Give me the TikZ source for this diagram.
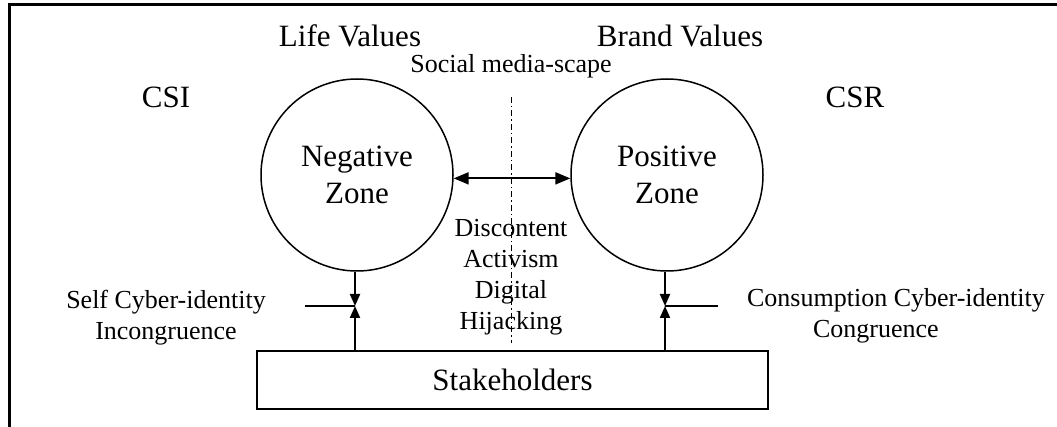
\documentclass[tikz,border=0pt]{standalone}
\usepackage{fontspec}
\setmainfont{Liberation Serif}
\usetikzlibrary{arrows.meta}

\begin{document}
\begin{tikzpicture}[x=1pt,y=-1pt,
  big/.style={font=\fontsize{31}{35}\selectfont,align=center,inner sep=0pt},
  small/.style={font=\fontsize{26}{31}\selectfont,align=center,inner sep=0pt},
  zone/.style={circle,draw,line width=1.5pt,minimum size=192pt,inner sep=0pt,
    font=\fontsize{31}{37}\selectfont,align=center},
  tip/.style={-{Triangle[length=12pt,width=10pt]},line width=2pt}]
\newcommand{\lx}{355} \newcommand{\rx}{665} \newcommand{\barY}{306}
  \useasboundingbox (0,0) rectangle (1057,427);
  \begin{scope}
    % Frame
    \draw[line width=3pt] (9,427) -- (9,5) -- (1057,5);

    % Headings
    \node[big] (life) at (350,36) {Life Values};
    \node[big] (brand) at (680,36) {Brand Values};
    \node[small] (media) at (511,66) {Social media-scape};
    \node[big] (csi) at (166,97) {CSI};
    \node[big] (csr) at (855,97) {CSR};

    % Zones
    \node[zone] (neg) at (357,175) {Negative\\Zone};
    \node[zone] (pos) at (667,175) {Positive\\Zone};
    \draw[{Triangle[length=15pt,width=12pt]}-{Triangle[length=15pt,width=12pt]},
      line width=2pt] (neg.-2.4) -- (pos.182.4);

    % Middle axis
    \coordinate (axtop) at (511,97);
    \coordinate (axbot) at (511,343);
    \draw[line width=1pt,dash pattern=on 6pt off 3pt on 1.5pt off 3pt]
      (axtop) -- (axbot);
    \node[small] (act) at (511,277)
      {Discontent\\Activism\\Digital\\Hijacking};

    % Stakeholders
    \node[draw,line width=2pt,minimum width=511pt,minimum height=58pt,
      font=\fontsize{31}{35}\selectfont] (stake) at (512.5,380) {Stakeholders};

    % Left link
    \coordinate (lbar) at (\lx,\barY);
    \draw[tip] (neg.south -| lbar) -- (lbar);
    \draw[tip] (stake.north -| lbar) -- (lbar);
    \draw[line width=2pt] (lbar) -- ++(-50,0);
    \node[small] (incon) at (166,318) {Self Cyber-identity\\Incongruence};

    % Right link
    \coordinate (rbar) at (\rx,\barY);
    \draw[tip] (pos.south -| rbar) -- (rbar);
    \draw[tip] (stake.north -| rbar) -- (rbar);
    \draw[line width=2pt] (rbar) -- ++(53,0);
    \node[small,align=left] (congr) at (896,316)
      {Consumption Cyber-identity\\\hspace*{66pt}Congruence};
  \end{scope}
\end{tikzpicture}
\end{document}
